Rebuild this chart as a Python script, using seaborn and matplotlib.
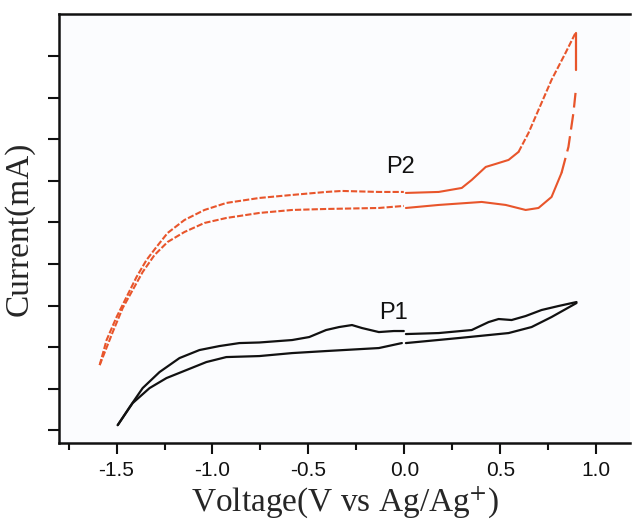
import matplotlib
matplotlib.use("Agg")
import matplotlib.pyplot as plt
import seaborn as sns
import pandas as pd

# ---------------- data (V, arbitrary current units) ----------------
# P1 (black) forward branch, negative side / positive side
p1_fwd_neg_x = [-1.494, -1.432, -1.364, -1.276, -1.172, -1.068, -0.964, -0.860, -0.756, -0.585, -0.496, -0.408, -0.340, -0.273, -0.221, -0.133, -0.055, -0.003]
p1_fwd_neg_y = [0.12, 0.554, 1.012, 1.398, 1.735, 1.928, 2.024, 2.096, 2.110, 2.169, 2.241, 2.41, 2.482, 2.53, 2.458, 2.361, 2.386, 2.386]
p1_fwd_pos_x = [0.008, 0.179, 0.351, 0.439, 0.491, 0.559, 0.632, 0.715, 0.803, 0.897]
p1_fwd_pos_y = [2.313, 2.337, 2.41, 2.602, 2.675, 2.651, 2.747, 2.892, 2.988, 3.084]
# P1 reverse branch
p1_rev_neg_x = [-1.494, -1.416, -1.328, -1.240, -1.136, -1.032, -0.928, -0.756, -0.585, -0.408, -0.133, -0.013]
p1_rev_neg_y = [0.12, 0.651, 1.012, 1.253, 1.446, 1.639, 1.759, 1.783, 1.855, 1.904, 1.976, 2.096]
p1_rev_pos_x = [0.008, 0.283, 0.543, 0.663, 0.767, 0.897]
p1_rev_pos_y = [2.096, 2.217, 2.337, 2.482, 2.723, 3.06]

# P2 (red) upper branch
p2_up_neg_x = [-1.588, -1.552, -1.500, -1.448, -1.396, -1.344, -1.292, -1.234, -1.146, -1.042, -0.928, -0.756, -0.585, -0.408, -0.325, -0.133, -0.003]
p2_up_neg_y = [1.566, 2.169, 2.723, 3.205, 3.687, 4.096, 4.41, 4.747, 5.06, 5.301, 5.47, 5.59, 5.663, 5.735, 5.759, 5.735, 5.735]
p2_up_pos_x = [0.008, 0.179, 0.299, 0.351, 0.424, 0.476, 0.543, 0.595, 0.647, 0.699, 0.767, 0.840, 0.892]
p2_up_pos_y = [5.711, 5.735, 5.831, 6.024, 6.337, 6.41, 6.506, 6.699, 7.157, 7.711, 8.434, 9.084, 9.566]
# P2 lower branch
p2_lo_neg_x = [-1.588, -1.520, -1.468, -1.416, -1.364, -1.302, -1.234, -1.146, -1.042, -0.928, -0.756, -0.585, -0.408, -0.133, -0.003]
p2_lo_neg_y = [1.566, 2.361, 2.94, 3.373, 3.807, 4.217, 4.53, 4.771, 4.988, 5.108, 5.229, 5.301, 5.325, 5.349, 5.398]
p2_lo_pos_x = [0.008, 0.179, 0.403, 0.528, 0.632, 0.699, 0.767, 0.819, 0.855, 0.881, 0.892, 0.892, 0.892]
p2_lo_pos_y = [5.349, 5.422, 5.494, 5.422, 5.301, 5.349, 5.614, 6.193, 6.819, 7.639, 8.12, 8.675, 9.566]

x_ticks = [-1.5, -1.0, -0.5, 0.0, 0.5, 1.0]
x_tick_labels = ["-1.5", "-1.0", "-0.5", "0.0", "0.5", "1.0"]
labels = ["P1", "P2"]

# ---------------- style ----------------
sns.set_theme(style="ticks")
plt.rcParams["font.family"] = ["Liberation Sans", "DejaVu Sans"]
plt.rcParams["mathtext.fontset"] = "stix"

BLACK = "#111111"
RED = "#e8552b"

fig = plt.figure(figsize=(6.33, 5.24), dpi=100)
ax = fig.add_axes([0.0932, 0.1546, 0.9018, 0.8187])
ax.set_facecolor("#fbfcfe")


def seg(x, y, color, ls, lw=1.6):
    df = pd.DataFrame({"x": x, "y": y})
    sns.lineplot(data=df, x="x", y="y", sort=False, estimator=None, color=color,
                 lw=lw, ax=ax, legend=False, linestyle=ls)


# P1 black solid
seg(p1_fwd_neg_x, p1_fwd_neg_y, BLACK, "-")
seg(p1_fwd_pos_x, p1_fwd_pos_y, BLACK, "-")
seg(p1_rev_neg_x, p1_rev_neg_y, BLACK, "-")
seg(p1_rev_pos_x, p1_rev_pos_y, BLACK, "-")

# P2 red: dashed on negative side, mixed on positive side
short_dash = (0, (3.0, 1.0))
long_dash = (0, (7.0, 3.0))
seg(p2_up_neg_x, p2_up_neg_y, RED, short_dash, lw=1.5)
seg(p2_lo_neg_x, p2_lo_neg_y, RED, short_dash, lw=1.5)
seg(p2_up_pos_x[:8], p2_up_pos_y[:8], RED, "-", lw=1.5)
seg(p2_up_pos_x[7:], p2_up_pos_y[7:], RED, short_dash, lw=1.5)
seg(p2_lo_pos_x[:8], p2_lo_pos_y[:8], RED, "-", lw=1.5)
seg(p2_lo_pos_x[7:11], p2_lo_pos_y[7:11], RED, long_dash, lw=1.6)
seg(p2_lo_pos_x[11:], p2_lo_pos_y[11:], RED, "-", lw=1.6)

ax.text(-0.055, 2.82, labels[0], fontsize=17, ha="center", va="center", color=BLACK)
ax.text(-0.018, 6.34, labels[1], fontsize=17, ha="center", va="center", color=BLACK)

ax.set_xlim(-1.80, 1.175)
ax.set_ylim(-0.31, 10.02)
ax.set_xticks(x_ticks)
ax.set_xticklabels(x_tick_labels)
ax.set_xticks([-1.75, -1.25, -0.75, -0.25, 0.25, 0.75], minor=True)
ax.set_yticks(list(range(0, 10)))
ax.set_yticklabels([])

ax.tick_params(axis="x", which="major", direction="out", length=8, width=1.5,
               labelsize=15, pad=5, colors=BLACK)
ax.tick_params(axis="x", which="minor", direction="out", length=5, width=1.5, colors=BLACK)
ax.tick_params(axis="y", which="major", direction="out", length=8, width=1.5, colors=BLACK)

for s in ["left", "bottom", "top"]:
    ax.spines[s].set_linewidth(1.8)
    ax.spines[s].set_color(BLACK)
ax.spines["right"].set_visible(False)

ax.set_xlabel("Voltage(V vs Ag/Ag$^{+}$)", fontsize=24, family=["Liberation Serif"], labelpad=3)
ax.set_ylabel("Current(mA)", fontsize=24, family=["Liberation Serif"], labelpad=6)

fig.savefig("out.png", dpi=100)
